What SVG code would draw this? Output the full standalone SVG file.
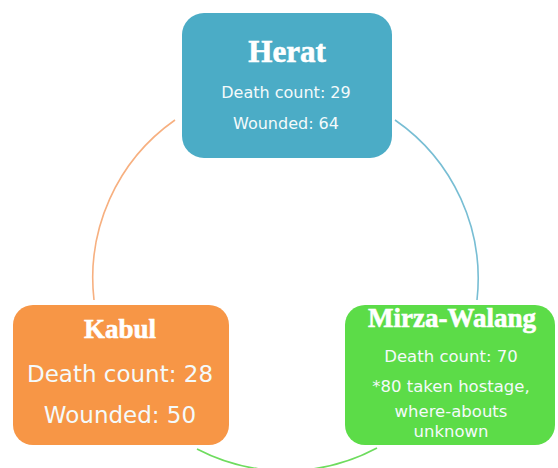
<svg xmlns="http://www.w3.org/2000/svg" width="558" height="468" viewBox="0 0 558 468">
<style>
.title{font-family:"Liberation Serif",serif;font-weight:bold;fill:#fff;stroke:#fff;stroke-width:0.6;text-anchor:middle}
.body{font-family:"DejaVu Sans",sans-serif;fill:#f4fafb;text-anchor:middle}
.arc{fill:none;stroke-width:1.6}
</style>
<rect width="558" height="468" fill="#fff"/>
<g id="connectors">
<path class="arc" d="M175,120 A193,193 0 0 0 94,300" stroke="#F7B080"/>
<path class="arc" d="M395,120 A193,193 0 0 1 477,300" stroke="#78BED4"/>
<path class="arc" d="M377,448 A193,193 0 0 1 197,449" stroke="#6EDC5E"/>
</g>
<g id="herat">
<rect x="182" y="13" width="210" height="145" rx="22" fill="#4BACC6"/>
<text class="title" x="287" y="62" font-size="31">Herat</text>
<text class="body" x="286" y="98" font-size="16">Death count: 29</text>
<text class="body" x="286" y="129" font-size="16">Wounded: 64</text>
</g>
<g id="kabul">
<rect x="13" y="305" width="216" height="140" rx="20" fill="#F79646"/>
<text class="title" x="120" y="338" font-size="27">Kabul</text>
<text class="body" x="120" y="382" font-size="23">Death count: 28</text>
<text class="body" x="120" y="423" font-size="23">Wounded: 50</text>
</g>
<g id="mirza-walang">
<rect x="345" y="305" width="210" height="140" rx="20" fill="#5CDC48"/>
<text class="title" x="452" y="327" font-size="27">Mirza-Walang</text>
<text class="body" x="451" y="362" font-size="16.5">Death count: 70</text>
<text class="body" x="451" y="392" font-size="16.5">*80 taken hostage,</text>
<text class="body" x="451" y="417" font-size="16.5">where-abouts</text>
<text class="body" x="451" y="437" font-size="16.5">unknown</text>
</g>
</svg>
